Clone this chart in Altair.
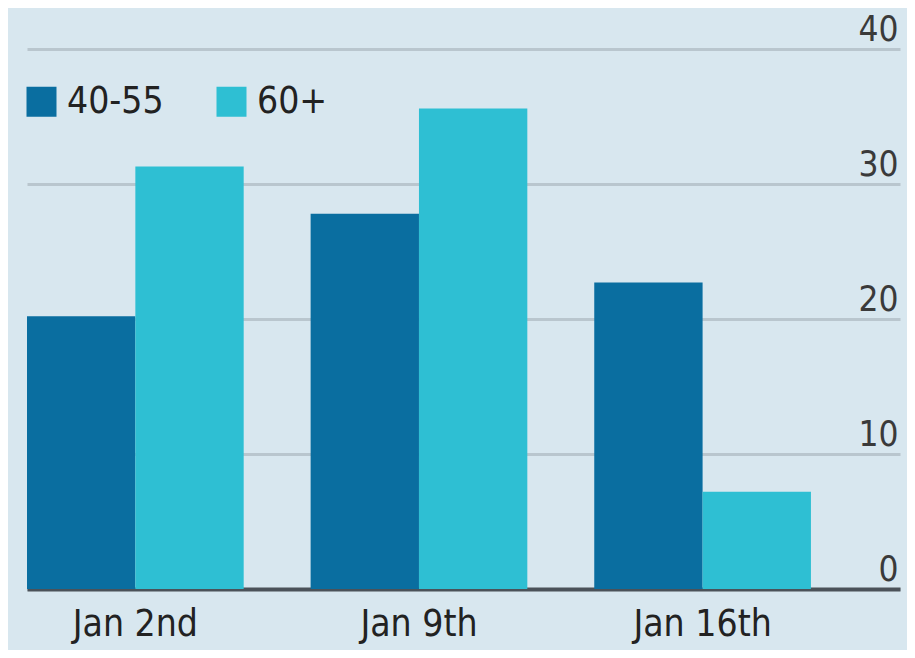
import altair as alt
import pandas as pd

dates = ["Jan 2nd", "Jan 9th", "Jan 16th"]
groups = ["40-55", "60+"]
values_40_55 = [20.2, 27.8, 22.7]
values_60 = [31.3, 35.6, 7.2]

rows = []
for d, a, b in zip(dates, values_40_55, values_60):
    rows.append({"date": d, "group": "40-55", "value": a})
    rows.append({"date": d, "group": "60+", "value": b})
df = pd.DataFrame(rows)

FONT = "DejaVu Sans Condensed, Liberation Sans Narrow, sans-serif"
W, H = 873, 540

chart = alt.Chart(df).mark_bar().encode(
    x=alt.X("date:N", sort=dates, title=None,
            scale=alt.Scale(paddingInner=0.236, paddingOuter=0.157, align=0),
            axis=alt.Axis(domain=True, domainColor="#4b5259", domainWidth=4,
                          ticks=False, labelAngle=0, labelFont=FONT, labelFontSize=37,
                          labelColor="#222222", labelPadding=17, grid=False)),
    xOffset=alt.XOffset("group:N", sort=groups, scale=alt.Scale(paddingInner=0, paddingOuter=0)),
    y=alt.Y("value:Q", title=None,
            scale=alt.Scale(domain=[0, 40], nice=False),
            axis=alt.Axis(orient="right", values=[0, 10, 20, 30, 40], domain=False, ticks=False,
                          grid=True, gridColor="#b9c6ce", gridWidth=3,
                          labelAlign="right", labelBaseline="alphabetic", labelPadding=-2,
                          labelOffset=-9, labelFont=FONT, labelFontSize=35,
                          labelColor="#3a3a3a")),
    color=alt.Color("group:N", sort=groups, title=None,
                    scale=alt.Scale(domain=groups, range=["#0a6ea0", "#2ebfd3"]),
                    legend=alt.Legend(orient="none", legendX=-4, legendY=34, direction="horizontal",
                                      symbolType="square", symbolSize=900, symbolStrokeWidth=0,
                                      labelFont=FONT, labelFontSize=37, labelColor="#222222",
                                      labelOffset=7, columnPadding=49)),
).properties(
    width=W, height=H,
    background="#d8e7ef",
    padding={"left": 19, "top": 41, "right": 7, "bottom": 61},
    autosize=alt.AutoSizeParams(type="none"),
).configure_view(stroke=None)

chart.save("out.html", embed_options={"renderer": "svg", "actions": False})
